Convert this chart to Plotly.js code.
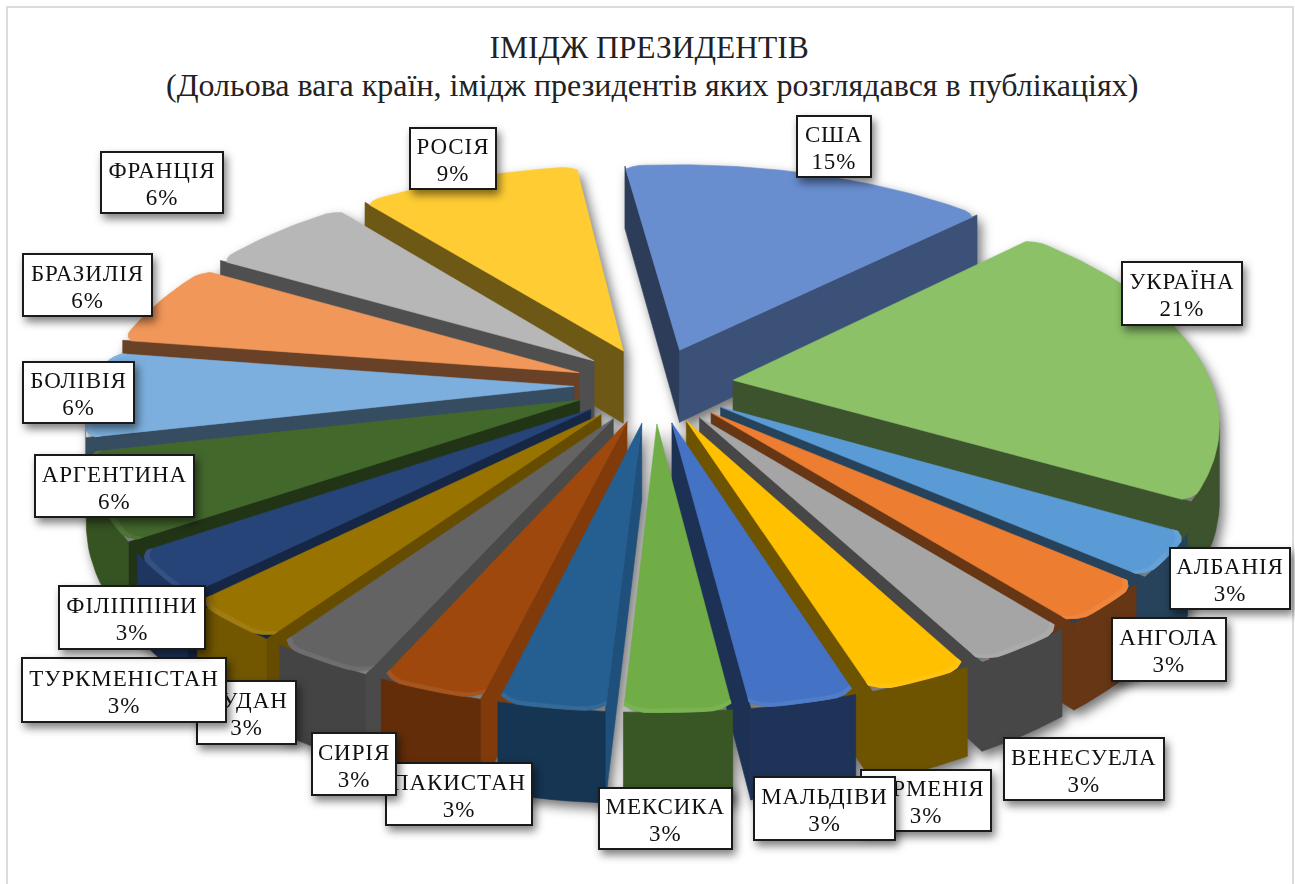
<!DOCTYPE html>
<html><head><meta charset="utf-8">
<script src="https://cdn.plot.ly/plotly-3.0.1.min.js"></script>
<style>html,body{margin:0;padding:0;background:#fff}#c{width:1295px;height:884px}</style>
</head><body><div id="c"></div>
<script>
const categories=["США","УКРАЇНА","АЛБАНІЯ","АНГОЛА","ВЕНЕСУЕЛА","ВІРМЕНІЯ","МАЛЬДІВИ","МЕКСИКА","ПАКИСТАН","СИРІЯ","СУДАН","ТУРКМЕНІСТАН","ФІЛІППІНИ","АРГЕНТИНА","БОЛІВІЯ","БРАЗИЛІЯ","ФРАНЦІЯ","РОСІЯ"];
const shares=[15,21,3,3,3,3,3,3,3,3,3,3,3,6,6,6,6,9];
const colors=["#698ED0","#8CC168","#5B9BD5","#ED7D31","#A5A5A5","#FFC000","#4472C4","#70AD47","#255E91","#9E480E","#636363","#997300","#264478","#43682B","#7CAFDD","#F1975A","#B7B7B7","#FFCD33"];
// label box geometry: left, top, right, bottom in chart units
const labelBoxes=[[796,115,872,178],[1121,261,1243,326],[1169,547,1291,610],[1111,617,1227,682],[1003,737,1165,801],[860,769,992,832],[753,776,896,841],[598,787,733,850],[385,762,533,826],[311,732,397,796],[196,680,297,745],[21,657,227,723],[58,585,206,650],[34,454,195,518],[22,361,135,424],[22,253,153,317],[100,151,224,214],[409,127,497,190]];

// view of the 3-D pie
const view={cx:654,cy:385,R:479,D:2900,H:1372,T:74,explode:80,rot:-7.3,corner:9};
const rad=d=>d*Math.PI/180;
function proj(r,a,ox,oy,down){
  const X=ox+r*Math.sin(a),Y=oy+r*Math.cos(a),s=view.D/(view.D+Y);
  return [view.cx+X*s, view.cy-view.H+(view.H+(down?view.T:0))*s];
}
function mix(hex,t,f){
  const n=parseInt(hex.slice(1),16),c=[n>>16,(n>>8)&255,n&255];
  return 'rgb('+c.map(v=>Math.round(v*(1-f)+t*f)).join(',')+')';
}
const shade=(hex,f)=>mix(hex,0,1-f);
function area(p){let s=0;for(let i=0;i<p.length;i++){const q=p[(i+1)%p.length];s+=p[i][0]*q[1]-q[0]*p[i][1];}return s/2;}
function poly(p,color){
  const c=p.concat([p[0]]);
  return {type:'scatter',mode:'lines',x:c.map(v=>v[0]),y:c.map(v=>v[1]),fill:'toself',fillcolor:color,
    line:{color:color,width:0.6},hoverinfo:'skip',showlegend:false};
}
const radialLight=n=>0.43+0.42*Math.pow(Math.max(0,Math.sin(n)),3);
const arcLight=a=>{const d=((a*180/Math.PI)%360+360)%360;return 0.43+0.37*Math.min(1,Math.max(0,(d-165)/65));};
const total=shares.reduce((a,b)=>a+b,0);
let cum=0;
const slices=shares.map((v,i)=>{
  const a0=rad(view.rot+cum/total*360);cum+=v;const a1=rad(view.rot+cum/total*360);
  const mid=(a0+a1)/2;
  return {i,a0,a1,mid,ox:view.explode*Math.sin(mid),oy:view.explode*Math.cos(mid)};
});
slices.sort((p,q)=>q.oy-p.oy);
const traces=[];
slices.forEach(sl=>{
  const {i,a0,a1,ox,oy}=sl,col=colors[i],R=view.R;
  const P=(r,a,d)=>proj(r,a,ox,oy,d);
  const w0=[P(0,a0,0),P(0,a0,1),P(R,a0,1),P(R,a0,0)];
  const w1=[P(0,a1,0),P(R,a1,0),P(R,a1,1),P(0,a1,1)];
  if(area(w0)>0)traces.push(poly(w0,shade(col,radialLight(a0-Math.PI/2))));
  if(area(w1)>0)traces.push(poly(w1,shade(col,radialLight(a1+Math.PI/2))));
  const n=Math.max(6,Math.ceil((a1-a0)/rad(2)));
  let run=[];
  const arcCol=shade(col,arcLight(sl.mid));
  const flush=()=>{if(run.length>1){
      const topE=run.map(a=>P(R,a,0)),botE=run.map(a=>P(R,a,1)).reverse();
      traces.push(poly(topE.concat(botE),arcCol));}
    run=[];};
  for(let k=0;k<n;k++){
    const u=a0+(a1-a0)*k/n,w=a0+(a1-a0)*(k+1)/n;
    const q=[P(R,u,0),P(R,w,0),P(R,w,1),P(R,u,1)];
    if(area(q)<0){if(!run.length)run.push(u);run.push(w);} else flush();
  }
  flush();
  const rr=a=>{const d=Math.min(a-a0,a1-a)*R;const t=Math.max(0,1-d/(view.corner*2.2));return R-view.corner*t*t;};
  const top=[P(0,a0,0)];
  const m=Math.max(10,Math.ceil((a1-a0)/rad(1)));
  const arc=[];
  for(let k=0;k<=m;k++){const a=a0+(a1-a0)*k/m;arc.push(a);top.push(P(rr(a),a,0));}
  traces.push(poly(top,col));
  if(Math.cos(sl.mid)<0.1){
    const band=arc.map(a=>P(rr(a),a,0)).concat(arc.slice().reverse().map(a=>P(rr(a)-5,a,0)));
    traces.push(poly(band,mix(col,255,0.07)));
  }
});

const labelFont={family:'"Liberation Serif",serif',size:23,color:'#111'};
const annotations=categories.map((c,i)=>{
  const [l,t,r,b]=labelBoxes[i];
  return {xref:'x',yref:'y',x:(l+r)/2,y:(t+b)/2,xanchor:'center',yanchor:'middle',showarrow:false,
    text:c+'<br>'+shares[i]+'%',font:labelFont,align:'center',valign:'middle',
    width:r-l-4,height:b-t-4,borderpad:0,borderwidth:2,bordercolor:'#1a1a1a',bgcolor:'#fff'};
});
annotations.push({xref:'paper',yref:'paper',x:0.5031,y:1-85/884,xanchor:'center',yanchor:'middle',showarrow:false,
  text:'(Дольова вага країн, імідж президентів яких розглядався в публікаціях)',
  font:{family:'"Liberation Serif",serif',size:32,color:'#222'}});
const layout={width:1295,height:884,margin:{l:0,r:0,t:0,b:0},paper_bgcolor:'#fff',plot_bgcolor:'#fff',showlegend:false,
  xaxis:{range:[0,1295],visible:false,fixedrange:true},
  yaxis:{range:[884,0],visible:false,fixedrange:true},
  title:{text:'ІМІДЖ ПРЕЗИДЕНТІВ',
    font:{family:'"Liberation Serif",serif',size:31.5,color:'#222'},x:0.5012,xanchor:'center',y:1-47/884,yanchor:'middle'},
  shapes:[{type:'path',xref:'x',yref:'y',path:'M7,884 L7,7 L1293,7 L1293,884',line:{color:'#dcdcdc',width:2},layer:'below'}],
  annotations};
Plotly.newPlot('c',traces,layout,{displayModeBar:false,staticPlot:true}).then(()=>{
  document.querySelectorAll('#c .scatterlayer').forEach(e=>e.style.filter='drop-shadow(4px 6px 6px rgba(0,0,0,.55))');
  const notes=document.querySelectorAll('#c .annotation');
  notes.forEach((e,i)=>{
    if(i<categories.length){
      e.style.filter='drop-shadow(3px 5px 4px rgba(0,0,0,.5))';
      e.querySelectorAll('text').forEach(t=>{
        t.style.letterSpacing='0.9px';
        t.style.transform='translateY(3px)';
        t.querySelectorAll('tspan.line').forEach((s,k)=>{if(k>0)s.setAttribute('dy','1.18em');});
      });
    }
  });
});
</script></body></html>
